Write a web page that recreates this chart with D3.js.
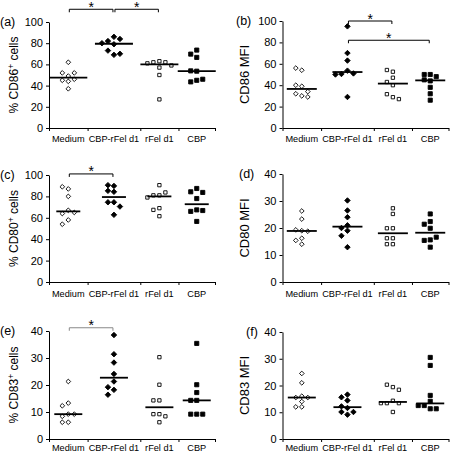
<!DOCTYPE html>
<html>
<head>
<meta charset="utf-8">
<script src="https://cdn.jsdelivr.net/npm/d3@7"></script>
<style>
  html, body { margin: 0; padding: 0; background: #fff; }
  svg { display: block; font-family: "Liberation Sans", Arial, Helvetica, sans-serif; }
</style>
</head>
<body>
<svg id="chart" width="454" height="456"></svg>
<script>
// ---------------- data ----------------
const categories = ["Medium", "CBP-rFel d1", "rFel d1", "CBP"];
const pctTicks = [0, 20, 40, 60, 80, 100];
const mfiTicks = [0, 20, 40, 60, 80, 100];
const mfiSmallTicks = [0, 10, 20, 30, 40];

// each panel: one array of values per category
const cd86Pct = [
  [62, 49, 52, 52, 45, 46, 44, 37],
  [86, 79, 82, 84, 80, 69, 73, 70],
  [63, 62, 62, 61, 57, 59, 50, 27],
  [73.5, 69.7, 66.6, 53.6, 53.9, 45, 43.5, 46]
];
const cd86Mfi = [
  [54, 56, 39, 40, 30, 32, 34, 29],
  [95, 70, 63, 53.6, 50.5, 51, 50, 29],
  [52.6, 54.2, 47, 43, 40, 28.8, 31.6, 27],
  [50, 50, 48, 44, 45, 38, 32, 26]
];
const cd80Pct = [
  [87, 89, 80, 67, 64, 65, 58, 54],
  [89.8, 90.5, 84.3, 85.2, 74.5, 74.5, 70.5, 62.8],
  [90.5, 81, 81, 83.7, 79, 69, 67.4, 61.5],
  [87.4, 84.3, 83.7, 78, 67.4, 66, 66.8, 56.6]
];
const cd80Mfi = [
  [26.3, 23.3, 19, 19.3, 18.8, 16.2, 15.4, 14],
  [30.2, 26.5, 24, 19, 20, 21, 17.1, 12.9],
  [27.3, 25.2, 19.9, 19.9, 16.2, 16.2, 14, 14],
  [25.2, 22.4, 21.4, 19.9, 15.6, 15.4, 16.6, 12.9]
];
const cd83Pct = [
  [21.3, 13.3, 12.3, 9.2, 8.4, 9.2, 6.2, 6.2],
  [38.5, 31.4, 28.3, 24.1, 21.3, 18.2, 19.2, 16.4],
  [30.3, 20.1, 14.3, 14.3, 9.2, 9.2, 8.4, 6.2],
  [35.4, 20.1, 17.2, 14.3, 14.3, 9.2, 9.2, 9.2]
];
const cd83Mfi = [
  [24.5, 21, 16, 15.5, 15.5, 14, 12, 12],
  [16.6, 15.6, 14.4, 11.6, 12.2, 9.1, 10.1, 10.1],
  [19.4, 20.3, 18.4, 14.3, 13.4, 13.4, 13.4, 10.1],
  [30.5, 27.5, 16.3, 14.1, 12.5, 11.3, 11.3, 12.5]
];

// significance brackets: [from category, to category, level in data units]
const sigA = [[0, 1, 112], [1, 2, 112]];
const sigB = [[1, 2, 100], [1, 3, 82]];
const sigC = [[0, 1, 101]];
const sigD = [];
const sigE = [[0, 1, 41.2]];
const sigF = [];

// ---------------- layout ----------------
const svg = d3.select("#chart");
const xBounds = [0, 0.93, 2.2, 3.12, 4];          // category separators on x domain [0,4]
const catCenters = categories.map((c, i) => (xBounds[i] + xBounds[i + 1]) / 2);

const panels = [
  { label: "(a)", lx: 0,   title: ["% CD86", "+", " cells"], data: cd86Pct, ticks: pctTicks, max: 100, sig: sigA,
    x0: 49, top: 22, bottom: 128, tx: 18, lblDy: 14, half: 19 },
  { label: "(b)", lx: 236, title: ["CD86 MFI"], data: cd86Mfi, ticks: mfiTicks, max: 100, sig: sigB,
    x0: 282.5, top: 21, bottom: 128, tx: 249, lblDy: 14, half: 15 },
  { label: "(c)", lx: 0,   title: ["% CD80", "+", " cells"], data: cd80Pct, ticks: pctTicks, max: 100, sig: sigC,
    x0: 49, top: 175, bottom: 282, tx: 18, lblDy: 15, half: 12 },
  { label: "(d)", lx: 239, title: ["CD80 MFI"], data: cd80Mfi, ticks: mfiSmallTicks, max: 40, sig: sigD,
    x0: 282.5, top: 174, bottom: 282, tx: 249, lblDy: 15, half: 15 },
  { label: "(e)", lx: 0,   title: ["% CD83", "+", " cells"], data: cd83Pct, ticks: mfiSmallTicks, max: 40, sig: sigE,
    x0: 49, top: 331, bottom: 439, tx: 18, lblDy: 12, half: 14 },
  { label: "(f)", lx: 246, title: ["CD83 MFI"], data: cd83Mfi, ticks: mfiSmallTicks, max: 40, sig: sigF,
    x0: 282.5, top: 332, bottom: 439, tx: 249, lblDy: 12, half: 14 }
];
const plotW = 166;

const diamond = {
  draw(ctx, size) {
    const r = Math.sqrt(size / 2);
    ctx.moveTo(0, -r); ctx.lineTo(r, 0); ctx.lineTo(0, r); ctx.lineTo(-r, 0); ctx.closePath();
  }
};
const markerStyles = [
  { type: diamond, size: 11, fill: "#fff", stroke: "#000" },
  { type: diamond, size: 15, fill: "#000", stroke: "#000" },
  { type: d3.symbolSquare, size: 11, fill: "#fff", stroke: "#000" },
  { type: d3.symbolSquare, size: 17, fill: "#000", stroke: "#000" }
];

// simple dodge so overlapping points spread horizontally
function dodge(pys, step, minDist) {
  const placed = [];
  return pys.map(py => {
    let off = 0;
    for (let k = 0; k < 20; k++) {
      const cand = k === 0 ? 0 : (k % 2 ? -1 : 1) * Math.ceil(k / 2) * step;
      if (placed.every(p => Math.hypot(p[0] - cand, p[1] - py) >= minDist)) { off = cand; break; }
    }
    placed.push([off, py]);
    return off;
  });
}

panels.forEach(p => {
  const g = svg.append("g");
  const x = d3.scaleLinear().domain([0, 4]).range([p.x0, p.x0 + plotW]);
  const y = d3.scaleLinear().domain([0, p.max]).range([p.bottom, p.top]);

  // y axis
  const ya = g.append("g").attr("transform", `translate(${p.x0},0)`)
    .call(d3.axisLeft(y).tickValues(p.ticks).tickSize(3).tickSizeOuter(0).tickPadding(3));
  ya.selectAll("text").attr("font-size", 11).attr("fill", "#000")
    .attr("font-family", "'Liberation Sans Narrow', 'Arial Narrow', 'Liberation Sans', Arial, sans-serif");
  ya.selectAll("line,path").attr("stroke", "#000");

  // x axis (category separators)
  const xa = g.append("g").attr("transform", `translate(0,${p.bottom})`)
    .call(d3.axisBottom(x).tickValues(xBounds).tickSize(3).tickSizeOuter(0).tickFormat(""));
  xa.selectAll("line,path").attr("stroke", "#000");

  // category labels
  g.selectAll("text.cat").data(categories).join("text")
    .attr("class", "cat")
    .attr("x", (d, i) => x(catCenters[i]))
    .attr("y", p.bottom + p.lblDy)
    .attr("text-anchor", "middle")
    .attr("font-size", 9.2)
    .attr("fill", "#000")
    .text(d => d);

  // y title
  const t = g.append("text")
    .attr("transform", `translate(${p.tx},${(p.top + p.bottom) / 2}) rotate(-90)`)
    .attr("text-anchor", "middle")
    .attr("font-size", p.title.length === 3 ? 12 : 13)
    .attr("fill", "#000");
  if (p.title.length === 3) {
    t.append("tspan").text(p.title[0]);
    t.append("tspan").attr("dy", -4.5).attr("font-size", 8.5).text(p.title[1]);
    t.append("tspan").attr("dy", 4.5).text(p.title[2]);
  } else {
    t.text(p.title[0]);
  }

  // panel label
  g.append("text").attr("x", p.lx).attr("y", p.top + 4)
    .attr("font-size", 12.5).attr("fill", "#000").text(p.label);

  // points and medians
  p.data.forEach((vals, i) => {
    const cx = x(catCenters[i]);
    const pys = vals.map(v => y(v));
    const offs = dodge(pys, 6, 5.2);
    const st = markerStyles[i];
    g.selectAll(null).data(vals).join("path")
      .attr("d", d3.symbol().type(st.type).size(st.size))
      .attr("transform", (v, j) => `translate(${cx + offs[j]},${y(v)})`)
      .attr("fill", st.fill).attr("stroke", st.stroke).attr("stroke-width", 0.9);
    const med = d3.median(vals);
    g.append("line")
      .attr("x1", cx - p.half).attr("x2", cx + p.half)
      .attr("y1", y(med)).attr("y2", y(med))
      .attr("stroke", "#000").attr("stroke-width", 1.8);
  });

  // significance brackets
  const color = p.label === "(e)" ? "#888" : "#000";
  p.sig.forEach(([a, b, lvl]) => {
    const x1 = x(catCenters[a]) + 1, x2 = x(catCenters[b]) - 1, yy = y(lvl);
    g.append("path")
      .attr("d", `M${x1},${yy + 3}V${yy}H${x2}V${yy + 3}`)
      .attr("fill", "none").attr("stroke", color).attr("stroke-width", 1);
    g.append("text").attr("x", (x1 + x2) / 2).attr("y", yy + 2.5)
      .attr("text-anchor", "middle").attr("font-size", 14).attr("fill", "#000").text("*");
  });
});
</script>
</body>
</html>
